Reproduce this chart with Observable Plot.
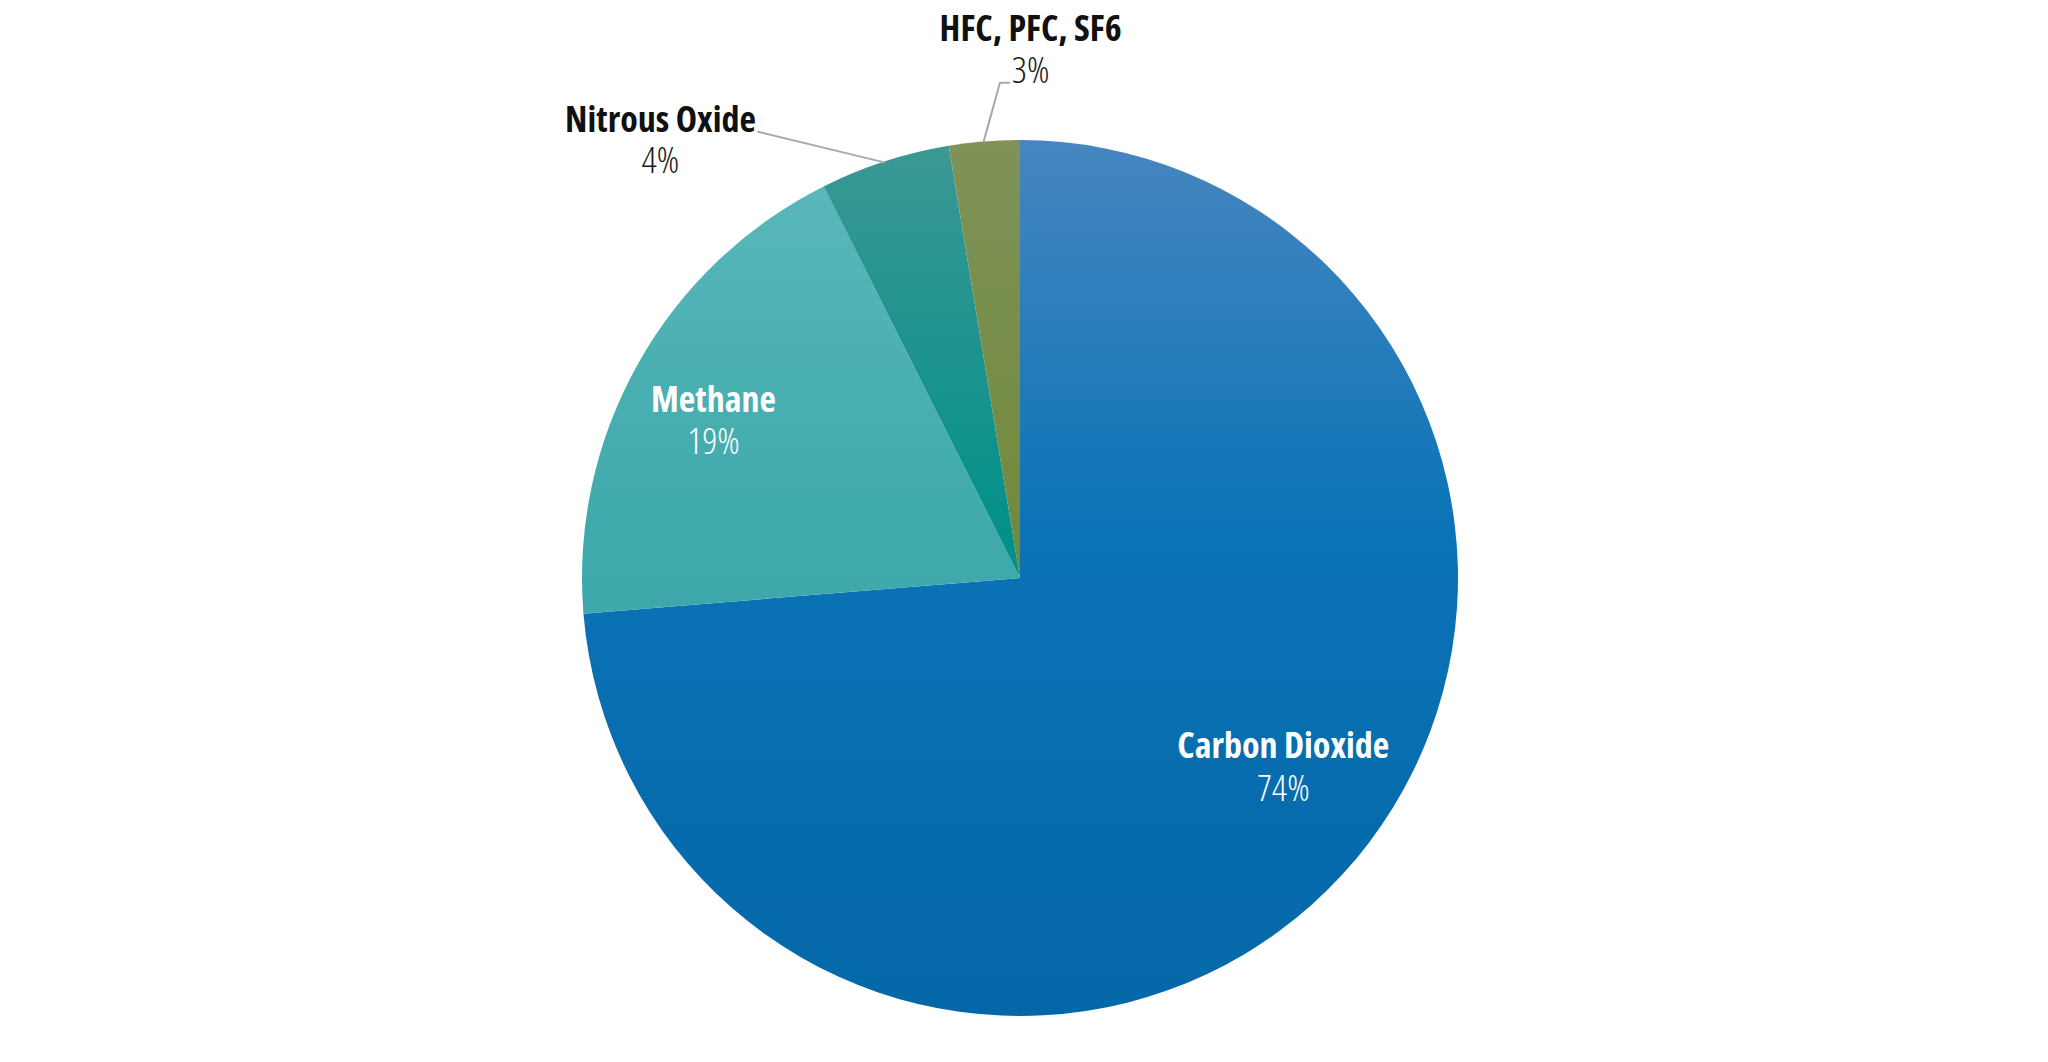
<!DOCTYPE html>
<html>
<head>
<meta charset="utf-8">
<script src="https://cdn.jsdelivr.net/npm/d3@7"></script>
<script src="https://cdn.jsdelivr.net/npm/@observablehq/plot@0.6"></script>
<style>
  html, body { margin: 0; padding: 0; background: #fff; }
  #chart { width: 2048px; height: 1062px; }
  #chart svg text { font-stretch: condensed; }
</style>
</head>
<body>
<div id="chart"></div>
<script>
// ---- data ----
const gases = ["Carbon Dioxide", "Methane", "Nitrous Oxide", "HFC, PFC, SF6"];
const shares = [73.7, 18.9, 4.8, 2.6];           // slice sizes
const shareLabels = ["74%", "19%", "4%", "3%"];   // printed labels
const topColors = ["#4686c0", "#5cb9bc", "#3c9893", "#7f9358"];
const midColors = ["#0a73b6", "#3fa9ab", "#03908a", "#71893d"];
const bottomColors = ["#0467a8", "#36a1a3", "#008a86", "#6a8534"];

const data = gases.map((g, i) => ({gas: g, value: shares[i], label: shareLabels[i], i}));

// label layout (unit circle coordinates, y up), and style
const labelLayout = [
  {x: 0.600, yName: -0.409, yPct: -0.507, inside: true},
  {x: -0.701, yName: 0.379, yPct: 0.284, inside: true},
  {x: -0.822, yName: 1.020, yPct: 0.925, inside: false},
  {x: 0.023, yName: 1.228, yPct: 1.132, inside: false}
];
const leaders = [
  {gas: "Nitrous Oxide", pts: [[-0.599, 1.020], [-0.311, 0.950]]},
  {gas: "HFC, PFC, SF6", pts: [[-0.026, 1.132], [-0.047, 1.132], [-0.084, 0.998]]}
];

const pie = d3.pie().sort(null).value(d => d.value)(data);

function pieMark(index, scales) {
  const {x, y} = scales;
  const cx = x(0), cy = y(0);
  const r = x(1) - x(0);
  const g = d3.create("svg:g");
  const defs = g.append("defs");
  data.forEach((d, i) => {
    const lg = defs.append("linearGradient")
      .attr("id", "grad" + i)
      .attr("gradientUnits", "userSpaceOnUse")
      .attr("x1", 0).attr("x2", 0)
      .attr("y1", -r).attr("y2", r);
    lg.append("stop").attr("offset", "0").attr("stop-color", topColors[i]);
    lg.append("stop").attr("offset", "0.45").attr("stop-color", midColors[i]);
    lg.append("stop").attr("offset", "1").attr("stop-color", bottomColors[i]);
  });
  const arc = d3.arc().innerRadius(0).outerRadius(r);
  g.append("g")
    .attr("transform", `translate(${cx},${cy})`)
    .selectAll("path")
    .data(pie)
    .join("path")
    .attr("d", arc)
    .attr("fill", (d, i) => `url(#grad${i})`);
  return g.node();
}

const nameData = data.map((d, i) => ({...d, ...labelLayout[i]}));
const leaderData = leaders.flatMap(l => l.pts.map(p => ({gas: l.gas, x: p[0], y: p[1]})));

const FONT = "'Liberation Sans Narrow', 'Open Sans', 'DejaVu Sans Condensed', sans-serif";

const chart = Plot.plot({
  width: 2048,
  height: 1062,
  margin: 0,
  x: {domain: [-1, 1], range: [582, 1458], axis: null},
  y: {domain: [-1, 1], range: [1016, 140], axis: null},
  style: {background: "#fff"},
  marks: [
    pieMark,
    Plot.line(leaderData, {x: "x", y: "y", z: "gas", stroke: "#a9a9a9", strokeWidth: 2}),
    Plot.text(nameData, {
      x: "x", y: "yName", text: "gas",
      fill: d => d.inside ? "#ffffff" : "#111111",
      fontSize: 36, fontWeight: "bold",
      fontFamily: FONT,
      textAnchor: "middle", lineAnchor: "bottom"
    }),
    Plot.text(nameData, {
      x: "x", y: "yPct", text: "label",
      fill: d => d.inside ? "#ffffff" : "#1a1a1a",
      fontSize: 37, fontWeight: 300,
      fontFamily: FONT,
      textAnchor: "middle", lineAnchor: "bottom"
    })
  ]
});
document.getElementById("chart").appendChild(chart);
</script>
</body>
</html>
